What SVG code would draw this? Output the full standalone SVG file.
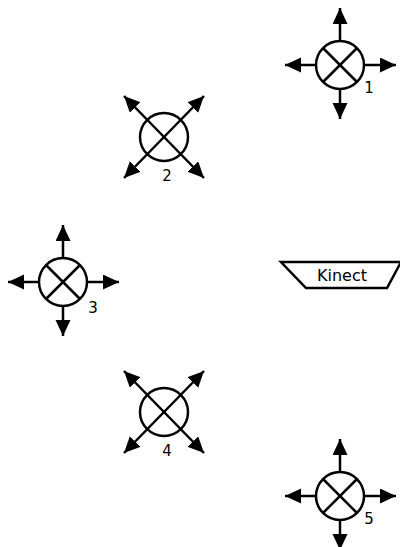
<svg xmlns="http://www.w3.org/2000/svg" xmlns:xlink="http://www.w3.org/1999/xlink" width="400" height="547" viewBox="0 0 400 547">
<style>
.ln{stroke:#000;stroke-width:2.5;fill:none}
.arr{stroke:#000;stroke-width:2.5;fill:none;marker-end:url(#ah)}
.lbl{font-family:"DejaVu Sans",sans-serif;font-size:15px;fill:#000}
</style>
<defs>
<marker id="ah" markerUnits="userSpaceOnUse" markerWidth="17" markerHeight="16" refX="16" refY="7.5" orient="auto">
<path d="M0,0 L16,7.5 L0,15 z" fill="#000"/>
</marker>
<g id="plus">
<line class="arr" x1="0" y1="-24" x2="0" y2="-57"/>
<line class="arr" x1="0" y1="24" x2="0" y2="54"/>
<line class="arr" x1="-24" y1="0" x2="-55" y2="0"/>
<line class="arr" x1="24" y1="0" x2="56" y2="0"/>
<circle class="ln" cx="0" cy="0" r="24"/>
<line class="ln" x1="-17" y1="-17" x2="17" y2="17"/>
<line class="ln" x1="17" y1="-17" x2="-17" y2="17"/>
</g>
<g id="diag">
<line class="arr" x1="0" y1="0" x2="-40" y2="-41"/>
<line class="arr" x1="0" y1="0" x2="40" y2="-41"/>
<line class="arr" x1="0" y1="0" x2="-40" y2="41"/>
<line class="arr" x1="0" y1="0" x2="40" y2="41"/>
<circle class="ln" cx="0" cy="0" r="24"/>
</g>
</defs>
<g id="node1">
<use xlink:href="#plus" x="340" y="65"/>
<text class="lbl" x="369" y="93" text-anchor="middle">1</text>
</g>
<g id="node2">
<use xlink:href="#diag" x="164" y="137"/>
<text class="lbl" x="167" y="181" text-anchor="middle">2</text>
</g>
<g id="node3">
<use xlink:href="#plus" x="63" y="282"/>
<text class="lbl" x="93" y="313" text-anchor="middle">3</text>
</g>
<g id="kinect">
<polygon class="ln" points="281,262 401,262 387,288 306,288"/>
<text class="lbl" x="342" y="281" text-anchor="middle" style="font-size:16px">Kinect</text>
</g>
<g id="node4">
<use xlink:href="#diag" x="164" y="412"/>
<text class="lbl" x="167" y="456" text-anchor="middle">4</text>
</g>
<g id="node5">
<use xlink:href="#plus" x="340" y="496"/>
<text class="lbl" x="369" y="524" text-anchor="middle">5</text>
</g>
<g id="connectors"/>
</svg>
